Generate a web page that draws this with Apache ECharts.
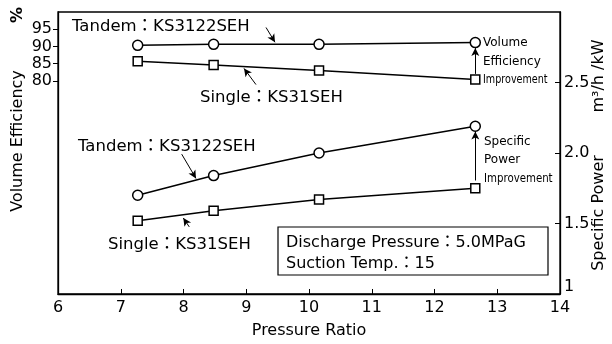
<!DOCTYPE html>
<html>
<head>
<meta charset="utf-8">
<script src="https://cdn.jsdelivr.net/npm/echarts@6/dist/echarts.min.js"></script>
<style>html,body{margin:0;padding:0;background:#fff;}#c{width:612px;height:344px;}</style>
</head>
<body>
<div id="c"></div>
<script>
const pressureRatio = [7.27, 8.48, 10.16, 12.65];
const veTandem = [90.3, 90.6, 90.6, 91.1];
const veSingle = [85.7, 84.6, 83.0, 80.4];
const spTandem = [1.70, 1.84, 2.00, 2.19];
const spSingle = [1.52, 1.59, 1.67, 1.75];
const xTicks = [6, 7, 8, 9, 10, 11, 12, 13, 14];
const veTicks = [80, 85, 90, 95];
const spTicks = [1, 1.5, 2, 2.5];
const spTickLabels = ['1', '1.5', '2.0', '2.5'];

const FONT = 'DejaVu Sans, "Noto Sans CJK JP", sans-serif';
const chart = echarts.init(document.getElementById('c'), null, {renderer: 'canvas'});

function pts(ys) { return pressureRatio.map((x, i) => [x, ys[i]]); }
function arrow(a, b) { return [{coord: a}, {coord: b}]; }
const last = pressureRatio.length - 1;

function txt(x, y, s, size, opt) {
  return Object.assign({
    type: 'text', x: x, y: y, silent: true,
    style: {text: s, fontFamily: FONT, fontSize: size, fill: '#000',
            textAlign: 'left', textVerticalAlign: 'middle'}
  }, opt || {});
}
function rtxt(x, y, s, size, bold) {
  return {
    type: 'text', x: x, y: y, silent: true, rotation: Math.PI / 2,
    style: {text: s, fontFamily: FONT, fontSize: size, fontWeight: bold ? 'bold' : 'normal', fill: '#000',
            textAlign: 'center', textVerticalAlign: 'middle'}
  };
}

const markLineBase = {
  silent: true, animation: false, symbol: ['none', 'arrow'], symbolSize: [6, 8],
  label: {show: false}, lineStyle: {color: '#000', width: 1, type: 'solid'}
};

const option = {
  animation: false,
  backgroundColor: '#fff',
  grid: {left: 58, right: 52, top: 12, bottom: 45, show: true, borderColor: '#000', borderWidth: 1.3},
  xAxis: {
    type: 'value', min: xTicks[0], max: xTicks[xTicks.length - 1], interval: 1,
    name: 'Pressure Ratio', nameLocation: 'middle', nameGap: 29,
    nameTextStyle: {fontFamily: FONT, fontSize: 16, color: '#000'},
    axisLine: {lineStyle: {color: '#000', width: 1.3}},
    axisTick: {inside: true, length: 5, lineStyle: {color: '#000', width: 1}},
    axisLabel: {fontFamily: FONT, fontSize: 16, color: '#000', margin: 6},
    splitLine: {show: false}
  },
  yAxis: [
    {
      type: 'value', min: 18, max: 100, position: 'left',
      axisLine: {show: true, lineStyle: {color: '#000', width: 1.3}},
      axisTick: {show: true, inside: false, length: 5, customValues: veTicks, lineStyle: {color: '#000', width: 1}},
      axisLabel: {fontFamily: FONT, fontSize: 16, color: '#000', margin: 6, customValues: veTicks,
                  formatter: v => (veTicks.indexOf(v) >= 0 ? String(v) : '')},
      splitLine: {show: false}
    },
    {
      type: 'value', min: 1, max: 3, interval: 0.5, position: 'right',
      axisLine: {show: true, lineStyle: {color: '#000', width: 1.3}},
      axisTick: {show: true, inside: true, length: 5, customValues: spTicks, lineStyle: {color: '#000', width: 1}},
      axisLabel: {fontFamily: FONT, fontSize: 16, color: '#000', margin: 4, customValues: spTicks,
                  formatter: v => {
                    const i = spTicks.indexOf(v);
                    if (i < 0) return '';
                    return i === 0 ? '{lo|' + spTickLabels[i] + '}' : spTickLabels[i];
                  },
                  rich: {lo: {fontFamily: FONT, fontSize: 16, color: '#000', padding: [0, 0, 14, 0]}}},
      splitLine: {show: false}
    }
  ],
  series: [
    {
      type: 'line', yAxisIndex: 0, data: pts(veTandem), symbol: 'circle', symbolSize: 10,
      lineStyle: {color: '#000', width: 1.5}, itemStyle: {color: '#fff', borderColor: '#000', borderWidth: 1.5},
      z: 3,
      markLine: Object.assign({}, markLineBase, {data: [
        arrow([9.315, 95.5], [9.458, 91.2]),
        arrow([pressureRatio[last], veSingle[last] + 1.6], [pressureRatio[last], veTandem[last] - 1.6])
      ]})
    },
    {
      type: 'line', yAxisIndex: 0, data: pts(veSingle), symbol: 'rect', symbolSize: 9,
      lineStyle: {color: '#000', width: 1.5}, itemStyle: {color: '#fff', borderColor: '#000', borderWidth: 1.5},
      z: 3,
      markLine: Object.assign({}, markLineBase, {data: [
        arrow([9.155, 78.9], [8.964, 83.6])
      ]})
    },
    {
      type: 'line', yAxisIndex: 1, data: pts(spTandem), symbol: 'circle', symbolSize: 10,
      lineStyle: {color: '#000', width: 1.5}, itemStyle: {color: '#fff', borderColor: '#000', borderWidth: 1.5},
      z: 3,
      markLine: Object.assign({}, markLineBase, {data: [
        arrow([7.971, 1.992], [8.199, 1.82]),
        arrow([pressureRatio[last], spSingle[last] + 0.055], [pressureRatio[last], spTandem[last] - 0.037])
      ]})
    },
    {
      type: 'line', yAxisIndex: 1, data: pts(spSingle), symbol: 'rect', symbolSize: 9,
      lineStyle: {color: '#000', width: 1.5}, itemStyle: {color: '#fff', borderColor: '#000', borderWidth: 1.5},
      z: 3,
      markLine: Object.assign({}, markLineBase, {data: [
        arrow([8.092, 1.476], [7.997, 1.539])
      ]})
    }
  ],
  graphic: [
    rtxt(18, 15, '%', 16, true),
    rtxt(18, 141, 'Volume Efficiency', 16),
    rtxt(599, 213, 'Specific Power', 16),
    rtxt(599, 76, 'm³/h /kW', 16),
    txt(72, 27, 'Tandem：KS3122SEH', 16.5),
    txt(200, 98, 'Single：KS31SEH', 16.5),
    txt(78, 147, 'Tandem：KS3122SEH', 16.5),
    txt(108, 245, 'Single：KS31SEH', 16.5),
    txt(483, 43, 'Volume', 12),
    txt(483, 62, 'Efficiency', 12),
    txt(483, 80, 'Improvement', 12, {scaleX: 0.8}),
    txt(484, 142, 'Specific', 12),
    txt(484, 160, 'Power', 12),
    txt(484, 179, 'Improvement', 12, {scaleX: 0.85}),
    {type: 'rect', shape: {x: 278, y: 227, width: 270, height: 48}, silent: true,
     style: {fill: '#fff', stroke: '#000', lineWidth: 1.2}, z: 10},
    txt(286, 243, 'Discharge Pressure：5.0MPaG', 16, {z: 11}),
    txt(286, 264, 'Suction Temp.：15', 16, {z: 11})
  ]
};
chart.setOption(option);
</script>
</body>
</html>
